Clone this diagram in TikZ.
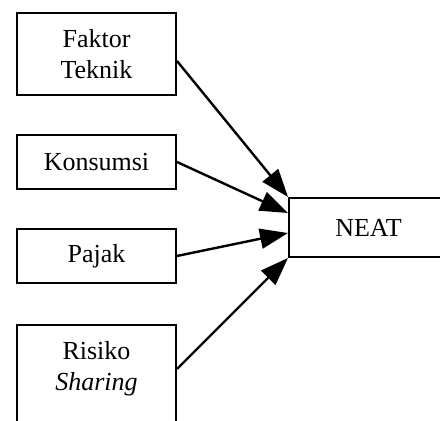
\documentclass[tikz,border=0pt]{standalone}
\usepackage{fontspec}
\setmainfont{Liberation Serif}
\usetikzlibrary{arrows.meta}

\begin{document}
\begin{tikzpicture}[x=0.5pt,y=-0.5pt,
  lbl/.style={font=\fontsize{13}{15.5}\selectfont, align=center, inner sep=0pt},
  box/.style={lbl, draw, line width=1pt, minimum width=79.5pt},
  link/.style={line width=1.2pt, -{Triangle[length=14pt,width=10pt]}}]
  \useasboundingbox (0,0) rectangle (440,421);
  \clip (0,0) rectangle (440,421);

  % factor boxes on the left
  \node[box, minimum height=41pt] (tek) at (96.5,54) {Faktor\\Teknik};
  \node[box, minimum height=27pt] (kon) at (96.5,162) {Konsumsi};
  \node[box, minimum height=27pt] (paj) at (96.5,256) {Pajak};
  \node[box, minimum height=57.5pt] (ris) at (96.5,382.5) {};
  \node[lbl] (ristxt) at (96.5,369) {Risiko\\\textit{Sharing}};

  % target box on the right
  \node[box, minimum height=29.5pt] (neat) at (368.5,227.5) {NEAT};

  % arrows into the target
  \draw[link] ([yshift=-3.5pt]tek.east) -- (neat.north west);
  \draw[link] (kon.east) -- ([yshift=7.25pt]neat.west);
  \draw[link] (paj.east) -- ([yshift=-2.75pt]neat.west);
  \draw[link] (ris.east |- ristxt) -- (neat.south west);
\end{tikzpicture}
\end{document}
